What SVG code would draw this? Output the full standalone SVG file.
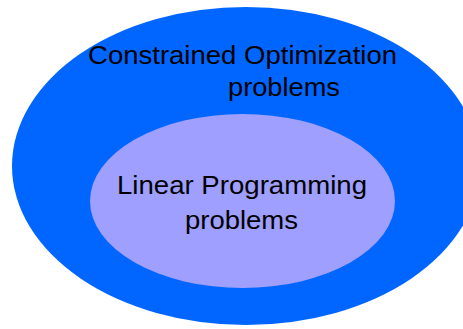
<svg xmlns="http://www.w3.org/2000/svg" width="463" height="329" viewBox="0 0 463 329">
<style>
text{font-family:"Liberation Sans",Arial,sans-serif;font-size:26.5px;fill:#000}
</style>
<rect width="463" height="329" fill="#fff"/>
<g id="outer">
<ellipse cx="246" cy="166" rx="234" ry="159" fill="#0066ff"/>
<text x="88" y="63.5" textLength="309" lengthAdjust="spacingAndGlyphs">Constrained Optimization</text>
<text x="228" y="95.5" textLength="112" lengthAdjust="spacingAndGlyphs">problems</text>
</g>
<g id="inner">
<ellipse cx="242.5" cy="201" rx="152.5" ry="87" fill="#9f9fff"/>
<text x="117" y="194" textLength="250" lengthAdjust="spacingAndGlyphs">Linear Programming</text>
<text x="185" y="228.5" textLength="113" lengthAdjust="spacingAndGlyphs">problems</text>
</g>
<g id="connectors"/>
</svg>
